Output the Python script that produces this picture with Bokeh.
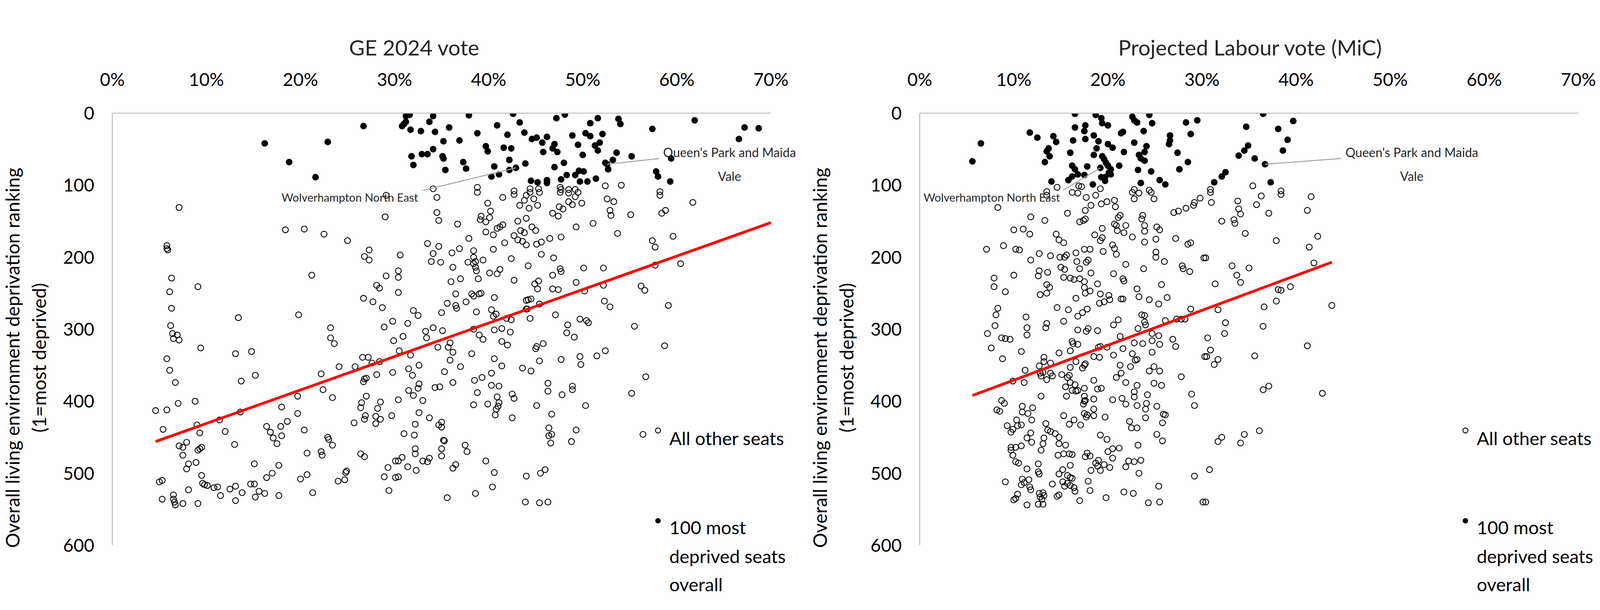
import math
from bokeh.plotting import figure
from bokeh.layouts import row
from bokeh.models import Range1d, FixedTicker, Label, Title
from bokeh.embed import file_html
from bokeh.resources import INLINE

FONT = "Lato"

# ---------------- tick values / labels ----------------
x_ticks = [0, 10, 20, 30, 40, 50, 60, 70]
x_tick_labels = ["0%", "10%", "20%", "30%", "40%", "50%", "60%", "70%"]
y_ticks = [0, 100, 200, 300, 400, 500, 600]

titles = ["GE 2024 vote", "Projected Labour vote (MiC)"]
y_label_text = "Overall living environment deprivation ranking\n(1=most deprived)"
legend_labels = ["All other seats", "100 most deprived seats overall"]

# ---------------- GE 2024 panel: (vote %, ranking) ----------------
ge_deprived = [
    (16.2, 42), (18.8, 68), (22.9, 40), (21.6, 89), (26.7, 18),
    (31.6, 2.5), (31.2, 4), (31.2, 12), (30.8, 18), (31.0, 15), (31.7, 23), (32.8, 25), (33.7, 12),
    (34.1, 4), (34.3, 26), (35.8, 20), (35.2, 39), (36.9, 38), (31.8, 60), (32.0, 72), (32.9, 57),
    (33.5, 57), (34.1, 50), (35.1, 60), (35.2, 63), (35.4, 79), (37.3, 68), (37.6, 77), (37.9, 3),
    (38.8, 28), (39.7, 46), (39.9, 53), (40.9, 17), (42.0, 30), (41.6, 48), (42.4, 49), (42.6, 1),
    (43.3, 13), (43.8, 27), (44.6, 36), (45.1, 34), (45.7, 41), (46.2, 33), (47.0, 43), (46.8, 49),
    (47.3, 54), (45.8, 54), (47.2, 7), (48.1, 2), (48.9, 31), (49.5, 44), (50.0, 58), (50.3, 28),
    (50.8, 32), (50.8, 14), (51.6, 7), (52.1, 29), (51.8, 41), (51.3, 45), (51.6, 52), (53.8, 8),
    (54.0, 15), (53.6, 55), (53.2, 65), (55.2, 60), (52.4, 69), (52.7, 78), (57.4, 22), (59.4, 63),
    (61.9, 10), (66.6, 36), (67.2, 20), (68.7, 21), (57.8, 81), (58.0, 88), (59.3, 95), (40.6, 74),
    (40.3, 88), (41.1, 85), (42.2, 65), (42.2, 79), (42.9, 76), (43.9, 70), (47.0, 75), (48.0, 69),
    (48.3, 86), (49.2, 86), (49.6, 80), (50.1, 81), (47.7, 92), (49.7, 95), (50.5, 95), (51.4, 91),
    (44.5, 94), (45.2, 96), (46.2, 93), (46.2, 97), (52.6, 71),
]

ge_other = [
    (34.1, 105), (38.8, 103), (42.7, 108), (44.4, 105), (45.3, 105), (47.6, 103), (47.7, 106),
    (48.5, 106), (49.2, 106), (52.4, 101), (54.1, 100), (58.2, 109),
    (7.1, 131), (18.4, 162), (20.4, 161), (22.5, 168), (25.0, 177), (29.0, 144), (29.1, 114),
    (5.8, 184), (5.8, 188), (5.9, 190), (6.3, 229), (6.1, 248), (6.3, 271), (6.2, 295), (6.4, 306),
    (6.5, 313), (6.9, 308), (7.1, 315), (9.1, 241), (9.4, 326), (13.4, 284), (13.1, 334), (14.8, 331),
    (13.7, 372), (15.2, 364), (21.2, 225), (19.8, 280), (23.2, 298), (23.2, 312), (23.6, 320),
    (5.8, 341), (6.1, 357), (6.7, 374), (7.0, 403), (8.8, 400), (4.6, 413), (5.8, 412), (5.4, 439),
    (9.0, 433), (9.3, 444), (11.4, 426), (13.6, 415), (12.0, 442), (13.0, 460), (16.4, 435),
    (16.8, 443), (17.1, 451), (17.5, 459), (17.9, 435), (18.0, 448), (18.0, 408), (18.6, 428),
    (19.7, 393), (19.7, 417), (20.4, 440), (20.7, 472), (22.2, 362), (22.4, 384), (23.4, 395),
    (24.1, 352), (25.8, 352), (22.9, 450), (23.0, 453), (23.4, 461), (22.2, 470), (22.3, 475),
    (26.4, 473), (26.8, 477), (25.7, 430), (26.4, 409), (26.5, 402), (26.8, 425), (26.9, 420),
    (27.0, 393), (26.7, 373), (26.8, 369), (27.0, 368), (26.6, 339), (27.2, 339), (27.6, 347),
    (28.4, 345), (28.1, 363), (28.1, 239), (28.4, 243), (26.7, 257), (27.7, 262), (28.7, 270),
    (26.8, 199), (27.3, 190), (27.3, 204), (29.1, 226), (29.8, 289), (28.9, 297), (29.9, 316),
    (29.8, 360), (28.2, 410), (28.5, 401), (28.0, 421), (28.5, 425), (28.0, 431), (29.7, 420),
    (7.1, 462), (7.5, 464), (7.9, 457), (7.5, 475), (9.1, 468), (9.3, 466), (9.5, 464), (8.9, 485),
    (8.1, 487), (7.9, 494), (9.5, 503), (9.6, 514), (9.8, 516), (10.1, 517), (10.8, 520), (11.2, 519),
    (11.5, 531), (12.5, 522), (13.1, 518), (13.8, 527), (13.1, 538), (14.7, 515), (15.1, 515),
    (15.2, 533), (15.6, 525), (16.2, 528), (15.1, 487), (16.4, 506), (17.0, 500), (17.7, 489),
    (17.7, 531), (20.0, 508), (20.7, 502), (21.3, 527), (24.0, 511), (24.7, 509), (24.9, 497),
    (24.8, 499), (28.9, 505), (29.3, 492), (29.4, 524), (30.1, 506), (30.1, 483), (5.0, 512),
    (5.3, 510), (5.3, 536), (6.5, 536), (6.5, 530), (6.7, 544), (6.6, 540), (7.5, 542), (8.1, 523),
    (9.1, 542),
    (30.6, 197), (30.4, 219), (30.4, 228), (30.4, 249), (30.5, 330), (30.4, 398),
    (34.5, 117), (38.8, 110), (41.5, 117), (42.7, 113), (44.0, 114), (43.8, 121), (44.4, 110),
    (44.8, 119), (45.2, 128), (44.3, 132), (43.3, 128), (45.4, 110), (47.6, 110), (48.5, 111),
    (49.2, 116), (49.5, 110), (48.9, 127), (48.5, 123), (47.5, 130), (47.9, 133), (46.8, 139),
    (47.4, 143), (49.9, 125), (52.6, 119), (53.3, 123), (52.9, 135), (53.0, 142), (58.2, 114),
    (61.7, 124), (58.4, 139), (58.8, 135), (55.1, 141), (34.5, 138), (34.7, 149), (36.7, 154),
    (39.9, 125), (40.2, 136), (39.1, 148), (39.7, 151), (40.1, 145), (39.2, 143), (39.7, 165),
    (40.5, 169), (40.9, 160), (41.2, 158), (41.5, 155), (43.1, 150), (44.0, 146), (43.4, 163),
    (43.8, 166), (44.6, 158), (45.0, 163), (42.7, 170), (43.1, 176), (43.6, 178), (44.0, 183),
    (45.1, 182), (45.6, 179), (41.7, 180), (37.9, 174), (33.5, 181), (34.7, 185), (34.1, 195),
    (33.9, 206), (34.9, 207), (36.1, 194), (36.9, 188), (36.2, 214), (37.8, 207), (38.4, 191),
    (38.4, 200), (38.6, 206), (38.6, 214), (38.7, 219), (38.4, 209), (39.4, 204), (40.5, 189),
    (40.1, 222), (40.9, 223), (41.2, 217), (36.0, 234), (37.0, 230), (38.9, 230), (42.4, 202),
    (42.7, 232), (44.2, 212), (45.6, 196), (46.5, 174), (47.7, 172), (46.9, 201), (46.8, 225),
    (47.6, 216), (47.7, 220), (46.8, 244), (47.4, 245), (44.9, 237), (45.3, 233), (45.2, 244),
    (49.3, 158), (51.1, 153), (53.7, 167), (50.1, 215), (52.2, 215), (49.3, 235), (50.2, 247),
    (52.2, 239), (57.4, 177), (57.7, 186), (59.6, 171), (57.7, 211), (60.4, 209), (56.2, 240),
    (56.6, 246), (59.1, 267), (52.3, 261), (52.9, 269), (55.5, 296), (58.7, 323), (56.7, 366),
    (55.2, 389), (56.4, 446),
    (36.5, 267), (36.6, 271), (35.6, 264), (35.0, 277), (37.6, 262), (36.5, 251), (38.2, 251),
    (38.4, 254), (39.0, 251), (39.2, 250), (40.6, 256), (38.7, 276), (40.3, 273), (40.5, 282),
    (40.8, 279), (40.6, 301), (41.4, 299), (41.9, 285), (42.4, 287), (42.3, 304), (41.4, 317),
    (42.0, 322), (44.0, 260), (44.2, 259), (44.5, 258), (44.0, 272), (44.1, 272), (45.4, 265),
    (44.4, 285), (38.4, 300), (39.0, 308), (39.4, 314), (38.2, 334), (35.9, 319), (35.7, 325),
    (36.2, 332), (35.9, 343), (34.6, 325), (33.3, 303), (33.4, 312), (34.1, 298), (35.1, 302),
    (32.0, 274), (32.5, 281), (31.4, 292), (30.9, 310), (31.7, 336), (35.3, 359), (37.0, 352),
    (31.5, 355), (31.9, 364), (32.6, 350), (32.6, 376), (32.5, 382), (31.5, 385), (32.0, 392),
    (33.0, 399), (34.3, 381), (34.8, 380), (36.2, 374), (38.5, 371), (39.3, 367), (40.3, 361),
    (40.3, 378), (41.1, 379), (40.6, 341), (41.4, 351), (38.8, 388), (38.4, 405), (39.9, 404),
    (40.9, 394), (41.0, 407), (40.8, 411), (40.7, 419), (41.1, 402), (42.5, 390), (42.7, 396),
    (42.5, 423), (43.6, 354), (44.5, 358), (45.0, 327), (45.1, 324), (45.8, 320), (45.4, 344),
    (47.7, 342), (47.1, 280), (48.4, 294), (48.3, 305), (49.1, 311), (49.7, 286), (50.4, 288),
    (50.6, 291), (49.7, 338), (49.8, 349), (51.5, 337), (52.4, 330), (46.3, 375), (46.3, 386),
    (47.8, 391), (48.9, 379), (48.9, 384), (45.1, 406), (46.7, 418), (50.3, 406), (46.4, 437),
    (46.4, 448), (46.7, 446), (46.6, 458), (49.3, 440), (48.8, 456),
    (32.6, 416), (33.7, 423), (32.2, 432), (31.0, 445), (32.1, 447), (34.7, 433), (35.0, 429),
    (35.0, 436), (35.2, 454), (35.3, 455), (32.2, 466), (32.2, 473), (35.0, 466), (35.0, 476),
    (30.8, 478), (30.4, 483), (33.0, 483), (33.5, 484), (33.7, 479), (31.4, 491), (32.3, 496),
    (30.4, 505), (37.5, 461), (37.7, 470), (36.2, 493), (36.5, 488), (39.7, 483), (40.6, 499),
    (40.4, 519), (44.0, 504), (45.5, 500), (46.0, 495), (35.6, 534), (38.6, 528), (43.9, 540),
    (45.4, 541), (46.3, 540),
]

ge_trend_x = [4.6, 70.0]
ge_trend_y = [456, 152]

# ---------------- MiC projection panel ----------------
mic_deprived = [
    (6.5, 42), (5.6, 67), (11.7, 27), (12.5, 34), (14.2, 32), (14.5, 40), (13.7, 49), (13.5, 53),
    (13.8, 60), (13.3, 68), (16.5, 1), (16.5, 20), (17.6, 17), (17.5, 25), (16.3, 38), (17.6, 36),
    (16.0, 55), (16.2, 73), (16.5, 78), (16.8, 85), (16.2, 88), (15.8, 93), (17.8, 74), (17.5, 86),
    (18.4, 99), (14.0, 95), (18.7, 2.5), (19.3, 7), (19.4, 14), (20.0, 17), (18.5, 31), (19.0, 39),
    (18.8, 49), (18.5, 58), (20.0, 43), (20.5, 48), (19.4, 60), (19.6, 64), (19.8, 69), (20.0, 73),
    (20.3, 78), (20.1, 83), (20.3, 85), (19.7, 89), (19.3, 89), (19.7, 94), (19.2, 76), (21.2, 73),
    (21.7, 54), (21.4, 28), (21.6, 26), (22.6, 5), (22.8, 10), (23.1, 13), (24.4, 2.5), (24.7, 14),
    (23.8, 25), (22.8, 41), (24.1, 46), (23.9, 54), (23.3, 58), (23.5, 63), (23.9, 66), (23.2, 79),
    (24.6, 81), (23.5, 97), (25.5, 93), (26.1, 99), (26.6, 31), (26.6, 38), (26.5, 43), (27.4, 55),
    (28.5, 68), (27.6, 78), (28.3, 13), (29.5, 10), (28.8, 29), (36.5, 1), (39.7, 11), (34.7, 19),
    (38.1, 22), (39.1, 37), (34.9, 45), (34.5, 52), (33.9, 59), (38.6, 52), (35.6, 63), (36.7, 71),
    (32.5, 82), (32.1, 88), (31.3, 96), (37.3, 96),
]

mic_other = [
    (14.6, 103), (16.9, 101), (17.2, 102), (19.2, 105), (22.8, 106), (24.4, 107), (13.5, 109),
    (35.4, 101), (30.9, 106), (38.4, 108),
    (8.3, 131), (11.8, 144), (13.3, 149), (13.5, 114), (15.7, 139), (17.0, 151), (17.4, 149),
    (17.6, 147), (17.6, 135), (17.7, 117), (18.2, 128), (19.3, 126), (19.9, 123), (20.7, 121),
    (20.8, 130), (16.2, 110), (16.8, 111), (18.7, 114), (21.1, 145), (21.3, 142), (20.7, 154),
    (21.0, 163), (20.9, 156), (21.9, 156), (21.7, 166), (22.8, 119), (22.6, 110), (23.3, 111),
    (24.6, 110), (24.9, 119), (23.6, 147), (23.7, 142), (23.9, 156), (23.9, 164), (22.6, 172),
    (25.2, 158), (25.5, 162), (25.1, 175), (19.4, 160), (18.6, 169), (19.2, 177), (19.4, 173),
    (19.5, 192), (20.5, 183), (20.7, 188), (20.9, 196), (23.9, 179), (25.1, 193), (25.1, 200),
    (26.0, 206), (21.9, 210), (23.8, 216), (20.6, 223), (27.0, 138), (27.5, 136), (28.3, 132),
    (29.1, 128), (29.2, 124), (29.8, 118), (27.2, 174), (28.5, 182), (28.8, 180), (30.2, 201),
    (27.9, 212), (28.0, 216), (28.7, 220), (14.5, 168), (14.8, 176), (15.3, 180), (10.0, 162),
    (11.0, 161), (11.7, 168), (7.1, 189), (8.9, 184), (10.2, 189), (10.6, 190), (11.8, 204),
    (12.7, 195), (13.9, 198), (14.9, 200), (15.4, 200), (15.6, 197), (15.0, 214), (15.4, 217),
    (15.3, 228), (16.6, 194), (16.7, 206), (17.0, 216), (17.7, 207), (17.9, 204), (18.1, 189),
    (17.5, 189), (18.2, 222), (16.0, 229), (16.4, 231), (17.0, 230), (17.5, 234), (17.5, 242),
    (17.6, 250), (18.1, 247), (16.6, 257), (18.9, 237), (19.2, 251), (20.1, 253), (20.2, 259),
    (19.6, 262), (19.1, 264), (21.4, 258), (21.6, 258), (21.6, 230), (21.7, 233), (23.1, 244),
    (23.3, 255), (24.4, 259), (25.4, 265), (25.7, 238), (26.3, 256), (12.7, 219), (12.6, 226),
    (13.6, 221), (10.0, 225), (7.9, 229), (7.9, 241), (9.1, 248), (13.5, 238), (13.8, 242),
    (13.5, 250), (12.8, 252), (8.3, 271), (8.1, 280), (8.0, 295), (7.2, 306), (7.6, 326),
    (8.7, 312), (9.1, 313), (9.6, 314), (8.8, 341), (10.8, 331), (11.3, 283), (11.4, 298),
    (11.4, 308), (13.4, 298), (13.5, 292), (14.6, 270), (15.8, 273), (15.3, 289), (16.8, 282),
    (17.3, 277), (17.8, 272), (16.8, 301), (17.7, 303), (17.9, 299), (18.9, 302), (16.2, 317),
    (16.3, 320), (16.8, 321), (14.8, 333), (16.0, 330), (16.6, 345), (13.2, 339), (13.2, 345),
    (13.9, 347), (12.7, 351), (11.2, 357), (12.8, 361), (13.1, 360), (12.9, 365), (13.9, 361),
    (14.1, 365), (13.5, 370), (9.9, 372), (11.1, 374), (15.1, 363), (15.7, 367), (15.9, 364),
    (16.0, 374), (15.5, 380), (15.6, 393), (16.0, 353), (16.5, 377), (16.2, 385), (16.6, 386),
    (16.8, 385), (17.5, 382), (17.5, 393), (17.5, 400), (17.4, 404), (17.6, 399), (17.5, 350),
    (17.3, 354), (17.6, 348), (18.5, 338), (19.1, 339), (18.5, 371), (18.9, 383), (19.3, 382),
    (18.5, 397), (17.5, 417), (17.7, 422), (17.8, 419), (18.5, 420), (18.5, 411), (19.7, 422),
    (20.6, 336), (21.6, 327), (21.3, 350), (21.4, 361), (20.9, 367), (21.9, 374), (22.6, 334),
    (22.9, 343), (23.1, 342), (22.4, 352), (23.1, 378), (22.8, 387), (22.8, 394), (20.5, 398),
    (21.5, 396), (21.9, 404), (23.1, 406), (22.8, 319), (23.7, 320), (24.7, 316), (24.7, 332),
    (25.5, 321), (25.4, 309), (24.7, 306), (24.4, 358), (24.9, 352), (25.5, 358), (24.9, 375),
    (25.7, 378), (24.2, 391), (24.1, 403), (24.0, 411), (25.2, 407), (24.0, 423), (25.9, 418),
    (26.1, 419), (25.8, 430), (26.9, 314), (27.2, 324), (27.8, 366), (28.9, 390), (29.2, 406),
    (30.3, 338), (28.8, 272), (27.3, 286), (27.8, 286), (28.2, 286), (23.9, 290), (24.0, 294),
    (23.9, 281), (23.6, 280), (23.2, 299), (21.3, 310), (20.6, 294), (21.1, 287), (19.0, 325),
    (19.2, 324), (19.9, 325), (26.1, 288),
    (8.2, 412), (8.5, 414), (8.7, 399), (9.0, 403), (10.9, 407), (10.9, 415), (11.5, 417),
    (12.0, 409), (11.9, 426), (12.9, 393), (9.3, 434), (9.9, 439), (10.3, 426), (10.4, 434),
    (10.8, 433), (9.7, 443), (13.4, 431), (13.6, 440), (13.9, 442), (14.4, 445), (14.8, 450),
    (15.3, 420), (15.9, 432), (16.4, 426), (17.1, 433), (11.8, 444), (11.4, 451), (11.9, 457),
    (9.7, 464), (9.7, 468), (10.2, 464), (10.8, 462), (9.9, 475), (10.2, 484), (10.5, 486),
    (11.4, 494), (13.2, 451), (13.1, 459), (12.9, 468), (14.8, 459), (14.7, 475), (15.5, 461),
    (15.3, 473), (15.9, 473), (16.2, 474), (12.6, 487), (12.6, 498), (12.7, 501), (16.0, 489),
    (17.6, 477), (17.8, 472), (18.1, 476), (18.2, 496), (18.7, 486), (19.0, 482), (18.9, 490),
    (19.2, 496), (19.6, 488), (20.2, 492), (19.2, 447), (19.9, 453), (20.0, 470), (20.5, 466),
    (20.5, 479), (21.2, 465), (21.9, 491), (22.2, 483), (22.8, 484), (23.5, 482), (23.2, 461),
    (22.3, 428), (22.5, 437), (23.1, 437), (25.2, 446), (25.8, 455), (23.3, 500), (29.2, 504),
    (25.4, 518), (21.7, 526), (22.7, 528), (19.8, 534), (17.0, 538), (18.1, 524), (17.9, 511),
    (24.3, 541), (25.5, 540), (30.1, 540), (9.1, 512), (10.9, 508), (11.1, 513), (10.8, 516),
    (11.6, 509), (11.7, 519), (11.8, 523), (10.4, 529), (10.2, 535), (10.0, 537), (11.4, 544),
    (12.7, 528), (13.1, 527), (13.2, 531), (12.8, 533), (13.0, 536), (12.6, 543), (13.1, 543),
    (14.1, 515), (14.6, 532), (14.8, 530), (14.8, 501), (15.2, 495), (15.7, 503), (16.0, 506),
    (16.2, 507), (15.7, 514), (15.4, 518), (16.0, 517), (16.4, 520), (16.5, 525), (15.2, 512),
    (30.9, 110), (31.0, 124), (33.8, 122), (33.9, 133), (34.1, 140), (33.4, 148), (33.5, 153),
    (32.1, 150), (36.3, 115), (35.8, 127), (37.1, 139), (38.4, 113), (41.6, 116), (41.2, 135),
    (34.6, 167), (37.9, 177), (41.4, 186), (42.3, 171), (30.4, 201), (33.2, 212), (33.7, 225),
    (34.1, 235), (35.0, 215), (31.4, 237), (41.9, 208), (38.1, 245), (38.4, 246), (39.4, 241),
    (37.9, 261), (36.6, 269), (36.5, 296), (31.7, 273), (32.5, 291), (32.4, 306), (30.6, 312),
    (30.9, 329), (30.5, 338), (31.7, 342), (31.3, 349), (43.8, 267), (35.6, 337), (41.2, 323),
    (36.5, 384), (37.1, 379), (42.8, 389), (31.7, 456), (32.1, 450), (34.1, 458), (34.5, 446),
    (36.1, 441), (30.8, 495), (30.4, 540),
]

mic_trend_x = [5.6, 43.8]
mic_trend_y = [392, 207]

# labelled seats: point position (vote %, ranking)
ge_named = {"Wolverhampton North East": (42.9, 76), "Queen's Park and Maida Vale": (52.6, 71)}
mic_named = {"Wolverhampton North East": (19.2, 76), "Queen's Park and Maida Vale": (36.7, 71)}


def unzip(pairs):
    return [p[0] for p in pairs], [p[1] for p in pairs]


# ---------------- layout (px) ----------------
AXIS_GREY = "#BFBFBF"
LEADER_GREY = "#A6A6A6"
PX_PER_PCT = 24.086        # horizontal pixels per 1 % of vote
PX_PER_RANK = 1.843        # vertical pixels per ranking unit
FRAME_H = 1252


def make_panel(title, title_offset, other, deprived, tx, ty, named, x_end,
               wolv_text, wolv_align, wolv_line_start, qp_text_x, qp_line_start,
               b_left, b_right):
    frame_w = round(x_end * PX_PER_PCT)
    p = figure(frame_width=frame_w, frame_height=FRAME_H,
               min_border_left=b_left, min_border_right=b_right,
               min_border_top=289, min_border_bottom=1,
               x_range=Range1d(0, frame_w / PX_PER_PCT),
               y_range=Range1d(FRAME_H / PX_PER_RANK, 0),
               x_axis_location="above", y_axis_location="left",
               output_backend="svg", toolbar_location=None,
               background_fill_color="white", border_fill_color="white")
    p.outline_line_color = None
    p.xgrid.visible = False
    p.ygrid.visible = False

    for ax in (p.xaxis[0], p.yaxis[0]):
        ax.axis_line_color = AXIS_GREY
        ax.axis_line_width = 2.6
        ax.major_tick_line_color = None
        ax.minor_tick_line_color = None
        ax.major_tick_out = 0
        ax.major_tick_in = 0
        ax.major_label_text_font = FONT
        ax.major_label_text_font_size = "46px"
        ax.major_label_text_color = "black"
    p.xaxis.bounds = (0, 70)
    p.xaxis.ticker = FixedTicker(ticks=x_ticks)
    p.xaxis.major_label_overrides = {t: l for t, l in zip(x_ticks, x_tick_labels)}
    p.xaxis.major_label_standoff = 60
    p.yaxis.bounds = (0, 600)
    p.yaxis.ticker = FixedTicker(ticks=y_ticks)
    p.yaxis.major_label_standoff = 46
    p.yaxis.axis_label = y_label_text
    p.yaxis.axis_label_text_font = FONT
    p.yaxis.axis_label_text_font_size = "48px"
    p.yaxis.axis_label_text_font_style = "normal"
    p.yaxis.axis_label_text_color = "black"
    p.yaxis.axis_label_standoff = 30

    p.add_layout(Title(text=title, align="left", offset=title_offset, text_font=FONT,
                       text_font_size="55px", text_font_style="normal",
                       text_color="#262626", standoff=36), "above")

    ox, oy = unzip(other)
    dx, dy = unzip(deprived)
    p.scatter(ox, oy, marker="circle", size=15, fill_color=None,
              line_color="black", line_width=2.2)
    p.scatter(dx, dy, marker="circle", size=17, fill_color="black", line_color=None)

    wx, wy = named["Wolverhampton North East"]
    p.line([wolv_line_start[0], wx], [wolv_line_start[1], wy], line_color=LEADER_GREY, line_width=2.6)
    qx, qy = named["Queen's Park and Maida Vale"]
    p.line([qp_line_start[0], qx], [qp_line_start[1], qy], line_color=LEADER_GREY, line_width=2.6)

    p.line(tx, ty, line_color="#FF0000", line_width=7)

    # legend drawn by hand so the long entry can wrap over three lines
    p.scatter([58.0], [440.6], marker="circle", size=13, fill_color=None,
              line_color="black", line_width=2.2)
    p.scatter([58.0], [566.0], marker="circle", size=14, fill_color="black", line_color=None)
    leg_lines = [(legend_labels[0], 451.4), ("100 most", 575.0),
                 ("deprived seats", 615.0), ("overall", 654.0)]
    for txt, yy in leg_lines:
        p.add_layout(Label(x=59.2, y=yy, text=txt, text_font=FONT, text_font_size="47px",
                           text_color="black", text_align="left", text_baseline="alphabetic"))

    p.add_layout(Label(x=wolv_text, y=116.5, text="Wolverhampton North East", text_font=FONT,
                       text_font_size="29px", text_color="#262626", text_align=wolv_align,
                       text_baseline="alphabetic"))
    p.add_layout(Label(x=qp_text_x, y=54.3, text="Queen's Park and Maida", text_font=FONT,
                       text_font_size="32px", text_color="#262626", text_align="center",
                       text_baseline="alphabetic"))
    p.add_layout(Label(x=qp_text_x, y=87.4, text="Vale", text_font=FONT,
                       text_font_size="32px", text_color="#262626", text_align="center",
                       text_baseline="alphabetic"))
    return p


p1 = make_panel(titles[0], 606, ge_other, ge_deprived, ge_trend_x, ge_trend_y, ge_named, 73.5,
                32.5, "right", (33.0, 107.4), 65.6, (58.1, 63), 277, 10)
p2 = make_panel(titles[1], 508, mic_other, mic_deprived, mic_trend_x, mic_trend_y, mic_named, 72.7,
                0.4, "left", (15.2, 107.4), 52.3, (44.8, 63), 268, 2)

layout = row(p1, p2)
with open("out.html", "w") as f:
    f.write(file_html(layout, INLINE))
